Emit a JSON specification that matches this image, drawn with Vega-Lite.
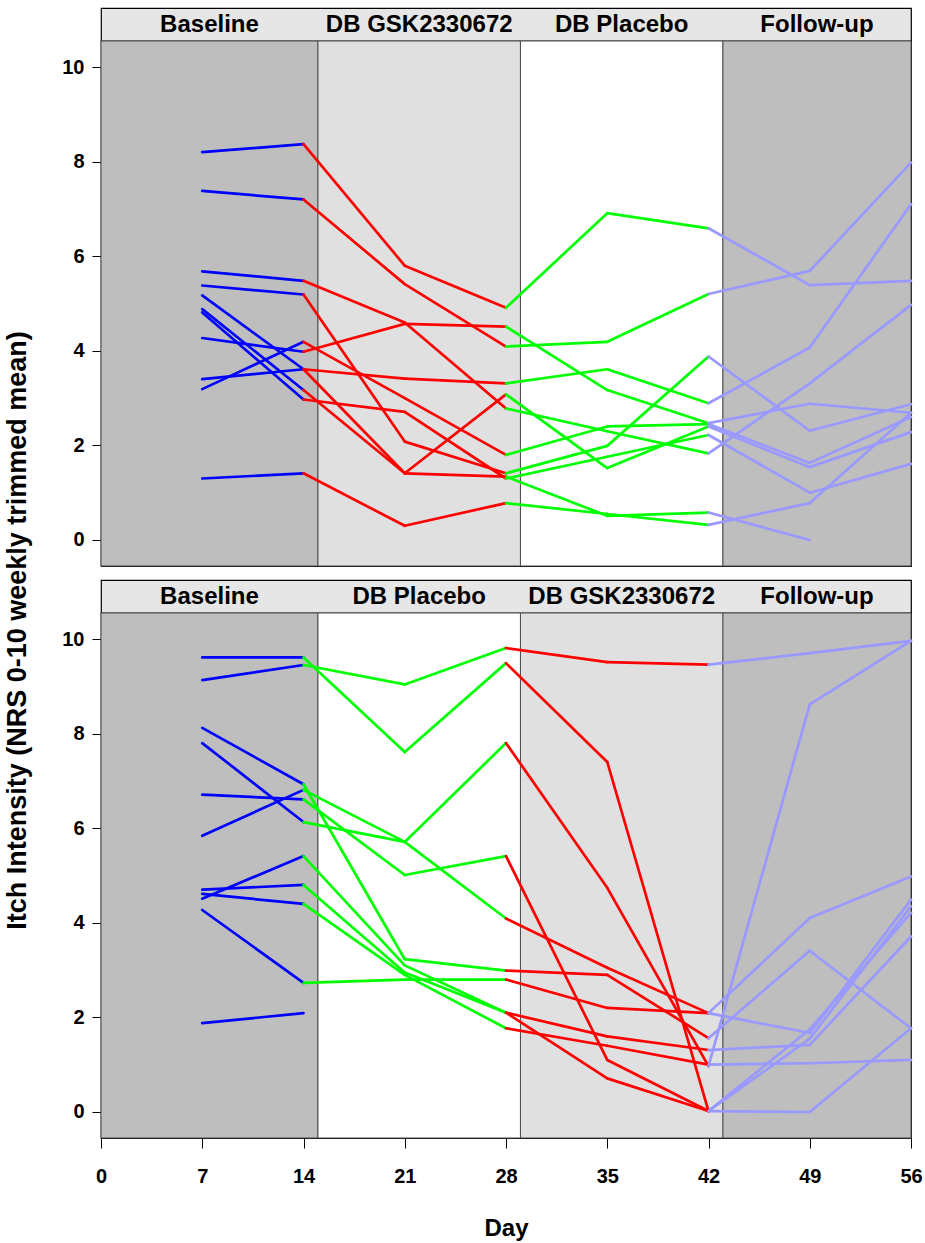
{
  "$schema": "https://vega.github.io/schema/vega-lite/v6.json",
  "background": "white",
  "padding": {"left": 3, "top": 7, "right": 14, "bottom": 3},
  "config": {
    "font": "Liberation Sans",
    "view": {"stroke": null},
    "axis": {"domain": false, "grid": false, "labelFlush": false, "labelOverlap": false, "tickColor": "#000", "tickWidth": 1, "labelColor": "#000", "titleColor": "#000", "labelFontWeight": "bold", "titleFontWeight": "bold", "labelFontSize": 20, "titleFontSize": 24}
  },
  "datasets": {
    "phA": [
      {"ph": "Baseline", "start": 0, "end": 15, "mid": 7.5},
      {"ph": "DB GSK2330672", "start": 15, "end": 29, "mid": 22},
      {"ph": "DB Placebo", "start": 29, "end": 43, "mid": 36},
      {"ph": "Follow-up", "start": 43, "end": 56, "mid": 49.5}
    ],
    "phB": [
      {"ph": "Baseline", "start": 0, "end": 15, "mid": 7.5},
      {"ph": "DB Placebo", "start": 15, "end": 29, "mid": 22},
      {"ph": "DB GSK2330672", "start": 29, "end": 43, "mid": 36},
      {"ph": "Follow-up", "start": 43, "end": 56, "mid": 49.5}
    ],
    "pts": [
      {"p":"A","s":"A1","day":7,"v":8.2,"ph":"Baseline"},{"p":"A","s":"A1","day":14,"v":8.37,"ph":"Baseline"},{"p":"A","s":"A1","day":21,"v":5.8,"ph":"DB GSK2330672"},{"p":"A","s":"A1","day":28,"v":4.91,"ph":"DB GSK2330672"},{"p":"A","s":"A1","day":35,"v":6.91,"ph":"DB Placebo"},{"p":"A","s":"A1","day":42,"v":6.59,"ph":"DB Placebo"},{"p":"A","s":"A1","day":49,"v":5.39,"ph":"Follow-up"},{"p":"A","s":"A1","day":56,"v":5.48,"ph":"Follow-up"},
      {"p":"A","s":"A2","day":7,"v":7.38,"ph":"Baseline"},{"p":"A","s":"A2","day":14,"v":7.2,"ph":"Baseline"},{"p":"A","s":"A2","day":21,"v":5.41,"ph":"DB GSK2330672"},{"p":"A","s":"A2","day":28,"v":4.09,"ph":"DB GSK2330672"},{"p":"A","s":"A2","day":35,"v":4.19,"ph":"DB Placebo"},{"p":"A","s":"A2","day":42,"v":5.2,"ph":"DB Placebo"},{"p":"A","s":"A2","day":49,"v":5.69,"ph":"Follow-up"},{"p":"A","s":"A2","day":56,"v":7.98,"ph":"Follow-up"},
      {"p":"A","s":"A3","day":7,"v":5.68,"ph":"Baseline"},{"p":"A","s":"A3","day":14,"v":5.48,"ph":"Baseline"},{"p":"A","s":"A3","day":21,"v":4.6,"ph":"DB GSK2330672"},{"p":"A","s":"A3","day":28,"v":2.78,"ph":"DB GSK2330672"},{"p":"A","s":"A3","day":35,"v":2.3,"ph":"DB Placebo"},{"p":"A","s":"A3","day":42,"v":1.83,"ph":"DB Placebo"},{"p":"A","s":"A3","day":49,"v":3.31,"ph":"Follow-up"},{"p":"A","s":"A3","day":56,"v":4.97,"ph":"Follow-up"},
      {"p":"A","s":"A4","day":7,"v":5.38,"ph":"Baseline"},{"p":"A","s":"A4","day":14,"v":5.19,"ph":"Baseline"},{"p":"A","s":"A4","day":21,"v":2.08,"ph":"DB GSK2330672"},{"p":"A","s":"A4","day":28,"v":1.41,"ph":"DB GSK2330672"},{"p":"A","s":"A4","day":35,"v":1.99,"ph":"DB Placebo"},{"p":"A","s":"A4","day":42,"v":3.88,"ph":"DB Placebo"},{"p":"A","s":"A4","day":49,"v":2.31,"ph":"Follow-up"},{"p":"A","s":"A4","day":56,"v":2.87,"ph":"Follow-up"},
      {"p":"A","s":"A5","day":7,"v":3.19,"ph":"Baseline"},{"p":"A","s":"A5","day":14,"v":4.19,"ph":"Baseline"},{"p":"A","s":"A5","day":21,"v":3.0,"ph":"DB GSK2330672"},{"p":"A","s":"A5","day":28,"v":1.8,"ph":"DB GSK2330672"},{"p":"A","s":"A5","day":35,"v":2.4,"ph":"DB Placebo"},{"p":"A","s":"A5","day":42,"v":2.45,"ph":"DB Placebo"},{"p":"A","s":"A5","day":49,"v":1.63,"ph":"Follow-up"},{"p":"A","s":"A5","day":56,"v":2.6,"ph":"Follow-up"},
      {"p":"A","s":"A6","day":7,"v":4.27,"ph":"Baseline"},{"p":"A","s":"A6","day":14,"v":3.98,"ph":"Baseline"},{"p":"A","s":"A6","day":21,"v":4.57,"ph":"DB GSK2330672"},{"p":"A","s":"A6","day":28,"v":4.51,"ph":"DB GSK2330672"},{"p":"A","s":"A6","day":35,"v":3.17,"ph":"DB Placebo"},{"p":"A","s":"A6","day":42,"v":2.47,"ph":"DB Placebo"},{"p":"A","s":"A6","day":49,"v":2.88,"ph":"Follow-up"},{"p":"A","s":"A6","day":56,"v":2.69,"ph":"Follow-up"},
      {"p":"A","s":"A7","day":7,"v":3.4,"ph":"Baseline"},{"p":"A","s":"A7","day":14,"v":3.61,"ph":"Baseline"},{"p":"A","s":"A7","day":21,"v":3.41,"ph":"DB GSK2330672"},{"p":"A","s":"A7","day":28,"v":3.31,"ph":"DB GSK2330672"},{"p":"A","s":"A7","day":35,"v":3.61,"ph":"DB Placebo"},{"p":"A","s":"A7","day":42,"v":2.89,"ph":"DB Placebo"},{"p":"A","s":"A7","day":49,"v":4.07,"ph":"Follow-up"},{"p":"A","s":"A7","day":56,"v":7.1,"ph":"Follow-up"},
      {"p":"A","s":"A8","day":7,"v":5.17,"ph":"Baseline"},{"p":"A","s":"A8","day":14,"v":3.61,"ph":"Baseline"},{"p":"A","s":"A8","day":21,"v":1.41,"ph":"DB GSK2330672"},{"p":"A","s":"A8","day":28,"v":3.08,"ph":"DB GSK2330672"},{"p":"A","s":"A8","day":35,"v":1.52,"ph":"DB Placebo"},{"p":"A","s":"A8","day":42,"v":2.4,"ph":"DB Placebo"},{"p":"A","s":"A8","day":49,"v":1.54,"ph":"Follow-up"},{"p":"A","s":"A8","day":56,"v":2.28,"ph":"Follow-up"},
      {"p":"A","s":"A9","day":7,"v":4.88,"ph":"Baseline"},{"p":"A","s":"A9","day":14,"v":3.17,"ph":"Baseline"},{"p":"A","s":"A9","day":21,"v":1.41,"ph":"DB GSK2330672"},{"p":"A","s":"A9","day":28,"v":1.34,"ph":"DB GSK2330672"},{"p":"A","s":"A9","day":35,"v":0.51,"ph":"DB Placebo"},{"p":"A","s":"A9","day":42,"v":0.58,"ph":"DB Placebo"},{"p":"A","s":"A9","day":49,"v":0.0,"ph":"Follow-up"},
      {"p":"A","s":"A10","day":7,"v":4.81,"ph":"Baseline"},{"p":"A","s":"A10","day":14,"v":2.97,"ph":"Baseline"},{"p":"A","s":"A10","day":21,"v":2.71,"ph":"DB GSK2330672"},{"p":"A","s":"A10","day":28,"v":1.3,"ph":"DB GSK2330672"},{"p":"A","s":"A10","day":35,"v":1.76,"ph":"DB Placebo"},{"p":"A","s":"A10","day":42,"v":2.22,"ph":"DB Placebo"},{"p":"A","s":"A10","day":49,"v":1.0,"ph":"Follow-up"},{"p":"A","s":"A10","day":56,"v":1.61,"ph":"Follow-up"},
      {"p":"A","s":"A11","day":7,"v":1.3,"ph":"Baseline"},{"p":"A","s":"A11","day":14,"v":1.41,"ph":"Baseline"},{"p":"A","s":"A11","day":21,"v":0.3,"ph":"DB GSK2330672"},{"p":"A","s":"A11","day":28,"v":0.78,"ph":"DB GSK2330672"},{"p":"A","s":"A11","day":35,"v":0.55,"ph":"DB Placebo"},{"p":"A","s":"A11","day":42,"v":0.32,"ph":"DB Placebo"},{"p":"A","s":"A11","day":49,"v":0.78,"ph":"Follow-up"},{"p":"A","s":"A11","day":56,"v":2.69,"ph":"Follow-up"},
      {"p":"B","s":"B1","day":7,"v":9.13,"ph":"Baseline"},{"p":"B","s":"B1","day":14,"v":9.45,"ph":"Baseline"},{"p":"B","s":"B1","day":21,"v":9.04,"ph":"DB Placebo"},{"p":"B","s":"B1","day":28,"v":9.81,"ph":"DB Placebo"},{"p":"B","s":"B1","day":35,"v":9.51,"ph":"DB GSK2330672"},{"p":"B","s":"B1","day":42,"v":9.46,"ph":"DB GSK2330672"},{"p":"B","s":"B1","day":49,"v":9.7,"ph":"Follow-up"},{"p":"B","s":"B1","day":56,"v":9.96,"ph":"Follow-up"},
      {"p":"B","s":"B2","day":7,"v":9.61,"ph":"Baseline"},{"p":"B","s":"B2","day":14,"v":9.61,"ph":"Baseline"},{"p":"B","s":"B2","day":21,"v":7.61,"ph":"DB Placebo"},{"p":"B","s":"B2","day":28,"v":9.49,"ph":"DB Placebo"},{"p":"B","s":"B2","day":35,"v":7.4,"ph":"DB GSK2330672"},{"p":"B","s":"B2","day":42,"v":0.02,"ph":"DB GSK2330672"},{"p":"B","s":"B2","day":49,"v":1.55,"ph":"Follow-up"},{"p":"B","s":"B2","day":56,"v":4.35,"ph":"Follow-up"},
      {"p":"B","s":"B3","day":7,"v":7.8,"ph":"Baseline"},{"p":"B","s":"B3","day":14,"v":6.13,"ph":"Baseline"},{"p":"B","s":"B3","day":21,"v":5.71,"ph":"DB Placebo"},{"p":"B","s":"B3","day":28,"v":7.8,"ph":"DB Placebo"},{"p":"B","s":"B3","day":35,"v":4.74,"ph":"DB GSK2330672"},{"p":"B","s":"B3","day":42,"v":0.97,"ph":"DB GSK2330672"},{"p":"B","s":"B3","day":49,"v":8.62,"ph":"Follow-up"},{"p":"B","s":"B3","day":56,"v":9.96,"ph":"Follow-up"},
      {"p":"B","s":"B4","day":7,"v":6.71,"ph":"Baseline"},{"p":"B","s":"B4","day":14,"v":6.61,"ph":"Baseline"},{"p":"B","s":"B4","day":21,"v":5.01,"ph":"DB Placebo"},{"p":"B","s":"B4","day":28,"v":5.41,"ph":"DB Placebo"},{"p":"B","s":"B4","day":35,"v":1.1,"ph":"DB GSK2330672"},{"p":"B","s":"B4","day":42,"v":0.02,"ph":"DB GSK2330672"},{"p":"B","s":"B4","day":49,"v":1.75,"ph":"Follow-up"},{"p":"B","s":"B4","day":56,"v":4.21,"ph":"Follow-up"},
      {"p":"B","s":"B5","day":7,"v":5.84,"ph":"Baseline"},{"p":"B","s":"B5","day":14,"v":6.81,"ph":"Baseline"},{"p":"B","s":"B5","day":21,"v":5.71,"ph":"DB Placebo"},{"p":"B","s":"B5","day":28,"v":4.09,"ph":"DB Placebo"},{"p":"B","s":"B5","day":35,"v":3.05,"ph":"DB GSK2330672"},{"p":"B","s":"B5","day":42,"v":2.09,"ph":"DB GSK2330672"},{"p":"B","s":"B5","day":49,"v":4.1,"ph":"Follow-up"},{"p":"B","s":"B5","day":56,"v":4.98,"ph":"Follow-up"},
      {"p":"B","s":"B6","day":7,"v":8.12,"ph":"Baseline"},{"p":"B","s":"B6","day":14,"v":6.93,"ph":"Baseline"},{"p":"B","s":"B6","day":21,"v":3.23,"ph":"DB Placebo"},{"p":"B","s":"B6","day":28,"v":2.99,"ph":"DB Placebo"},{"p":"B","s":"B6","day":35,"v":2.9,"ph":"DB GSK2330672"},{"p":"B","s":"B6","day":42,"v":1.56,"ph":"DB GSK2330672"},{"p":"B","s":"B6","day":49,"v":3.41,"ph":"Follow-up"},{"p":"B","s":"B6","day":56,"v":1.77,"ph":"Follow-up"},
      {"p":"B","s":"B7","day":7,"v":4.27,"ph":"Baseline"},{"p":"B","s":"B7","day":14,"v":2.73,"ph":"Baseline"},{"p":"B","s":"B7","day":21,"v":2.8,"ph":"DB Placebo"},{"p":"B","s":"B7","day":28,"v":2.8,"ph":"DB Placebo"},{"p":"B","s":"B7","day":35,"v":2.2,"ph":"DB GSK2330672"},{"p":"B","s":"B7","day":42,"v":2.09,"ph":"DB GSK2330672"},{"p":"B","s":"B7","day":49,"v":1.67,"ph":"Follow-up"},{"p":"B","s":"B7","day":56,"v":4.49,"ph":"Follow-up"},
      {"p":"B","s":"B8","day":7,"v":4.51,"ph":"Baseline"},{"p":"B","s":"B8","day":14,"v":5.41,"ph":"Baseline"},{"p":"B","s":"B8","day":21,"v":3.1,"ph":"DB Placebo"},{"p":"B","s":"B8","day":28,"v":2.1,"ph":"DB Placebo"},{"p":"B","s":"B8","day":35,"v":1.6,"ph":"DB GSK2330672"},{"p":"B","s":"B8","day":42,"v":1.31,"ph":"DB GSK2330672"},{"p":"B","s":"B8","day":49,"v":1.42,"ph":"Follow-up"},{"p":"B","s":"B8","day":56,"v":3.71,"ph":"Follow-up"},
      {"p":"B","s":"B9","day":7,"v":4.7,"ph":"Baseline"},{"p":"B","s":"B9","day":14,"v":4.8,"ph":"Baseline"},{"p":"B","s":"B9","day":21,"v":2.95,"ph":"DB Placebo"},{"p":"B","s":"B9","day":28,"v":2.1,"ph":"DB Placebo"},{"p":"B","s":"B9","day":35,"v":0.71,"ph":"DB GSK2330672"},{"p":"B","s":"B9","day":42,"v":0.02,"ph":"DB GSK2330672"},{"p":"B","s":"B9","day":49,"v":0.0,"ph":"Follow-up"},{"p":"B","s":"B9","day":56,"v":1.77,"ph":"Follow-up"},
      {"p":"B","s":"B10","day":7,"v":4.61,"ph":"Baseline"},{"p":"B","s":"B10","day":14,"v":4.4,"ph":"Baseline"},{"p":"B","s":"B10","day":21,"v":2.9,"ph":"DB Placebo"},{"p":"B","s":"B10","day":28,"v":1.77,"ph":"DB Placebo"},{"p":"B","s":"B10","day":35,"v":1.4,"ph":"DB GSK2330672"},{"p":"B","s":"B10","day":42,"v":1.0,"ph":"DB GSK2330672"},{"p":"B","s":"B10","day":49,"v":1.03,"ph":"Follow-up"},{"p":"B","s":"B10","day":56,"v":1.1,"ph":"Follow-up"},
      {"p":"B","s":"B11","day":7,"v":1.88,"ph":"Baseline"},{"p":"B","s":"B11","day":14,"v":2.09,"ph":"Baseline"}
    ]
  },
  "bounds": "flush",
  "spacing": 0,
  "vconcat": [
    {
      "width": 810, "height": 33,
      "view": {"fill": "#e6e6e6", "stroke": "#000", "strokeWidth": 1.2},
      "data": {"name": "phA"},
      "mark": {"type": "text", "fontSize": 24, "fontWeight": "bold", "color": "#000", "baseline": "middle"},
      "encoding": {
        "x": {"field": "mid", "type": "quantitative", "scale": {"domain": [0, 56], "nice": false, "zero": false}, "axis": null},
        "text": {"field": "ph"}
      }
    },
    {
      "width": 810, "height": 525,
      "view": {"stroke": "#000", "strokeWidth": 1.2},
      "layer": [
        {
          "data": {"name": "phA"},
          "mark": {"type": "rect", "stroke": "#4d4d4d", "strokeWidth": 1},
          "encoding": {
            "x": {"field": "start", "type": "quantitative", "scale": {"domain": [0, 56], "nice": false, "zero": false}, "axis": null},
            "x2": {"field": "end"},
            "fill": {"field": "ph", "type": "nominal", "scale": {"domain": ["Baseline", "DB GSK2330672", "DB Placebo", "Follow-up"], "range": ["#bebebe", "#e0e0e0", "#ffffff", "#bebebe"]}, "legend": null}
          }
        },
        {
          "data": {"name": "pts"},
          "transform": [
            {"filter": "datum.p == 'A'"},
            {"window": [{"op": "lag", "field": "day", "as": "d0"}, {"op": "lag", "field": "v", "as": "v0"}], "groupby": ["s"], "sort": [{"field": "day", "order": "ascending"}]},
            {"filter": "datum.d0 != null"}
          ],
          "mark": {"type": "rule", "strokeWidth": 2.7, "strokeCap": "round"},
          "encoding": {
            "x": {"field": "d0", "type": "quantitative", "axis": null},
            "x2": {"field": "day"},
            "y": {"field": "v0", "type": "quantitative", "scale": {"domain": [-0.55, 10.55], "nice": false, "zero": false}, "axis": {"values": [0, 2, 4, 6, 8, 10], "title": null, "tickSize": 9, "labelPadding": 8}},
            "y2": {"field": "v"},
            "stroke": {"field": "ph", "type": "nominal", "scale": {"domain": ["Baseline", "DB GSK2330672", "DB Placebo", "Follow-up"], "range": ["#0000ff", "#ff0000", "#00ff00", "#9999ff"]}, "legend": null}
          }
        }
      ]
    },
    {
      "width": 810, "height": 14,
      "data": {"name": "phA"},
      "mark": {"type": "text", "opacity": 0},
      "encoding": {"text": {"value": ""}}
    },
    {
      "width": 810, "height": 33,
      "view": {"fill": "#e6e6e6", "stroke": "#000", "strokeWidth": 1.2},
      "data": {"name": "phB"},
      "mark": {"type": "text", "fontSize": 24, "fontWeight": "bold", "color": "#000", "baseline": "middle"},
      "encoding": {
        "x": {"field": "mid", "type": "quantitative", "scale": {"domain": [0, 56], "nice": false, "zero": false}, "axis": null},
        "text": {"field": "ph"}
      }
    },
    {
      "width": 810, "height": 525,
      "view": {"stroke": "#000", "strokeWidth": 1.2},
      "layer": [
        {
          "data": {"name": "phB"},
          "mark": {"type": "rect", "stroke": "#4d4d4d", "strokeWidth": 1},
          "encoding": {
            "x": {"field": "start", "type": "quantitative", "scale": {"domain": [0, 56], "nice": false, "zero": false}, "axis": {"values": [0, 7, 14, 21, 28, 35, 42, 49, 56], "title": "Day", "tickSize": 10, "labelPadding": 18, "titlePadding": 30}},
            "x2": {"field": "end"},
            "fill": {"field": "ph", "type": "nominal", "scale": {"domain": ["Baseline", "DB GSK2330672", "DB Placebo", "Follow-up"], "range": ["#bebebe", "#e0e0e0", "#ffffff", "#bebebe"]}, "legend": null}
          }
        },
        {
          "data": {"name": "pts"},
          "transform": [
            {"filter": "datum.p == 'B'"},
            {"window": [{"op": "lag", "field": "day", "as": "d0"}, {"op": "lag", "field": "v", "as": "v0"}], "groupby": ["s"], "sort": [{"field": "day", "order": "ascending"}]},
            {"filter": "datum.d0 != null"}
          ],
          "mark": {"type": "rule", "strokeWidth": 2.7, "strokeCap": "round"},
          "encoding": {
            "x": {"field": "d0", "type": "quantitative", "axis": {"values": [0, 7, 14, 21, 28, 35, 42, 49, 56], "title": "Day", "tickSize": 10, "labelPadding": 18, "titlePadding": 30}},
            "x2": {"field": "day"},
            "y": {"field": "v0", "type": "quantitative", "scale": {"domain": [-0.55, 10.55], "nice": false, "zero": false}, "axis": {"values": [0, 2, 4, 6, 8, 10], "title": "Itch Intensity (NRS 0-10 weekly trimmed mean)", "titleFontSize": 27, "tickSize": 9, "labelPadding": 8, "titlePadding": 30, "titleY": 17}},
            "y2": {"field": "v"},
            "stroke": {"field": "ph", "type": "nominal", "scale": {"domain": ["Baseline", "DB GSK2330672", "DB Placebo", "Follow-up"], "range": ["#0000ff", "#ff0000", "#00ff00", "#9999ff"]}, "legend": null}
          }
        }
      ]
    }
  ]
}
